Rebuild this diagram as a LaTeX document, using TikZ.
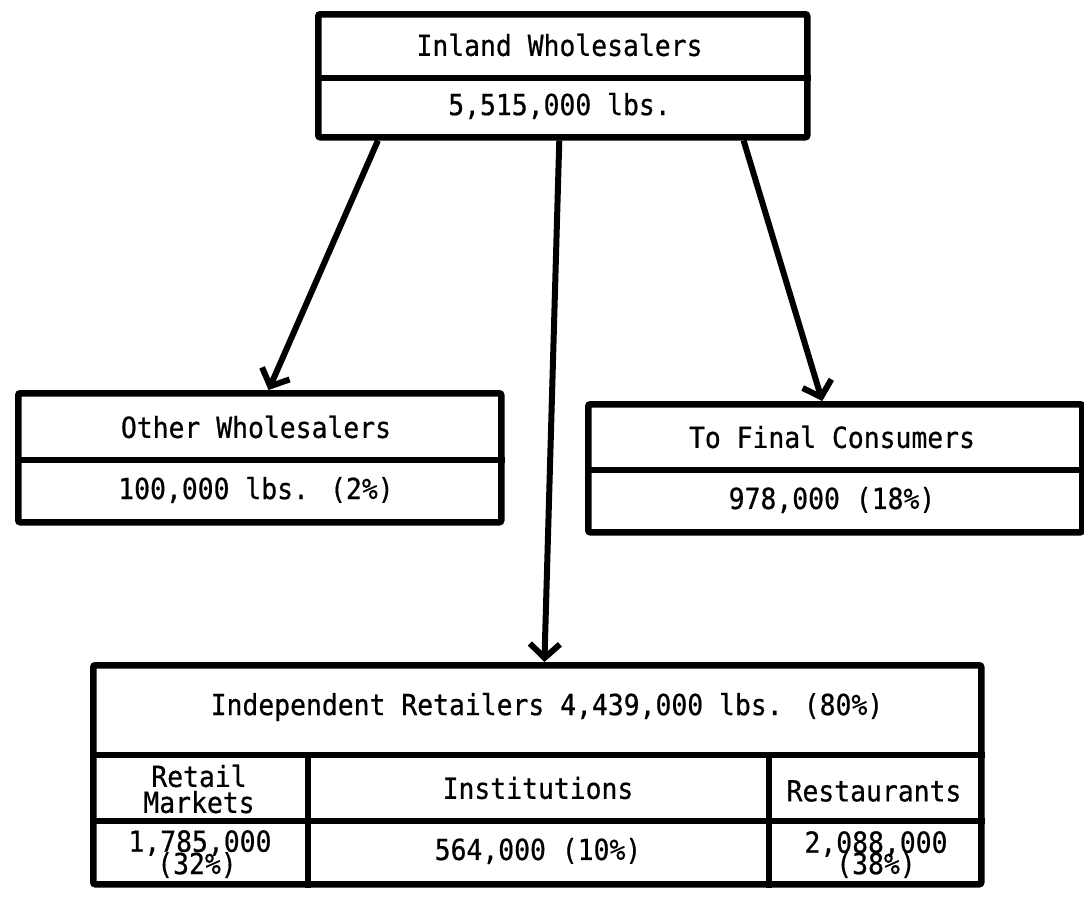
\documentclass[tikz,border=0pt]{standalone}
\usepackage{fontspec}
\newfontfamily\mono[FakeStretch=0.91,FakeBold=0.6]{DejaVu Sans Mono}
\usetikzlibrary{arrows.meta,calc}
\begin{document}
\begin{tikzpicture}[x=1pt,y=-1pt,
  box/.style={draw, line width=6.5pt, rounded corners=2pt, anchor=north west, inner sep=0pt},
  div/.style={line width=5.5pt},
  lbl/.style={font=\mono\fontsize{29}{26}\selectfont, inner sep=0pt, align=center},
  arr/.style={line width=6pt, -{Straight Barb[length=14pt,width=30pt]}}]
\useasboundingbox (0,0) rectangle (1084,897);
\fill[white] (0,0) rectangle (1084,897);

% Inland Wholesalers
\node[box, minimum width=489pt, minimum height=123pt] (iw) at (315,11) {};
\coordinate (iwd) at (0,78);
\draw[div] (iw.west |- iwd) -- (iw.east |- iwd);
\node[lbl] (iwt) at (559.5,45) {Inland Wholesalers};
\node[lbl] (iwn) at (559.5,106) {5,515,000 lbs.};

% Other Wholesalers
\node[box, minimum width=483pt, minimum height=129pt] (ow) at (15,390) {};
\coordinate (owd) at (0,460);
\draw[div] (ow.west |- owd) -- (ow.east |- owd);
\node[lbl] (owt) at (256,427) {Other Wholesalers};
\node[lbl] (own) at (256,490) {100,000 lbs. (2\%)};

% To Final Consumers
\node[box, minimum width=494pt, minimum height=128pt] (fc) at (585,401) {};
\coordinate (fcd) at (0,470);
\draw[div] (fc.west |- fcd) -- (fc.east |- fcd);
\node[lbl] (fct) at (832,437) {To Final Consumers};
\node[lbl] (fcn) at (832,500) {978,000 (18\%)};

% Independent Retailers
\node[box, minimum width=888pt, minimum height=219pt] (ir) at (90,662) {};
\coordinate (ird1) at (0,755);
\coordinate (ird2) at (0,821);
\coordinate (irc1) at (308,0);
\coordinate (irc2) at (769,0);
\draw[div] (ir.west |- ird1) -- (ir.east |- ird1);
\draw[div] (ir.west |- ird2) -- (ir.east |- ird2);
\draw[div] (irc1 |- ird1) -- (irc1 |- ir.south);
\draw[div] (irc2 |- ird1) -- (irc2 |- ir.south);
\node[lbl] (irt) at (547,707) {Independent Retailers 4,439,000 lbs. (80\%)};
\node[lbl, font=\mono\fontsize{29}{26}\selectfont] (rm) at (199,789) {Retail\\Markets};
\node[lbl] (ins) at (538,788) {Institutions};
\node[lbl] (res) at (874,791) {Restaurants};
\node[lbl] (rmn) at (200,843) {1,785,000};
\node[lbl] (rmp) at (197,865) {(32\%)};
\node[lbl] (insn) at (538,851) {564,000 (10\%)};
\node[lbl] (resn) at (876,844) {2,088,000};
\node[lbl] (resp) at (876,865) {(38\%)};

% connectors
\draw[arr] ($(iw.south west)!0.127!(iw.south east)$) -- ($(ow.north west)!0.518!(ow.north east)$);
\draw[arr] ($(iw.south west)!0.493!(iw.south east)$) -- ($(ir.north west)!0.508!(ir.north east)$);
\draw[arr] ($(iw.south west)!0.865!(iw.south east)$) -- ($(fc.north west)!0.474!(fc.north east)$);
\end{tikzpicture}
\end{document}
